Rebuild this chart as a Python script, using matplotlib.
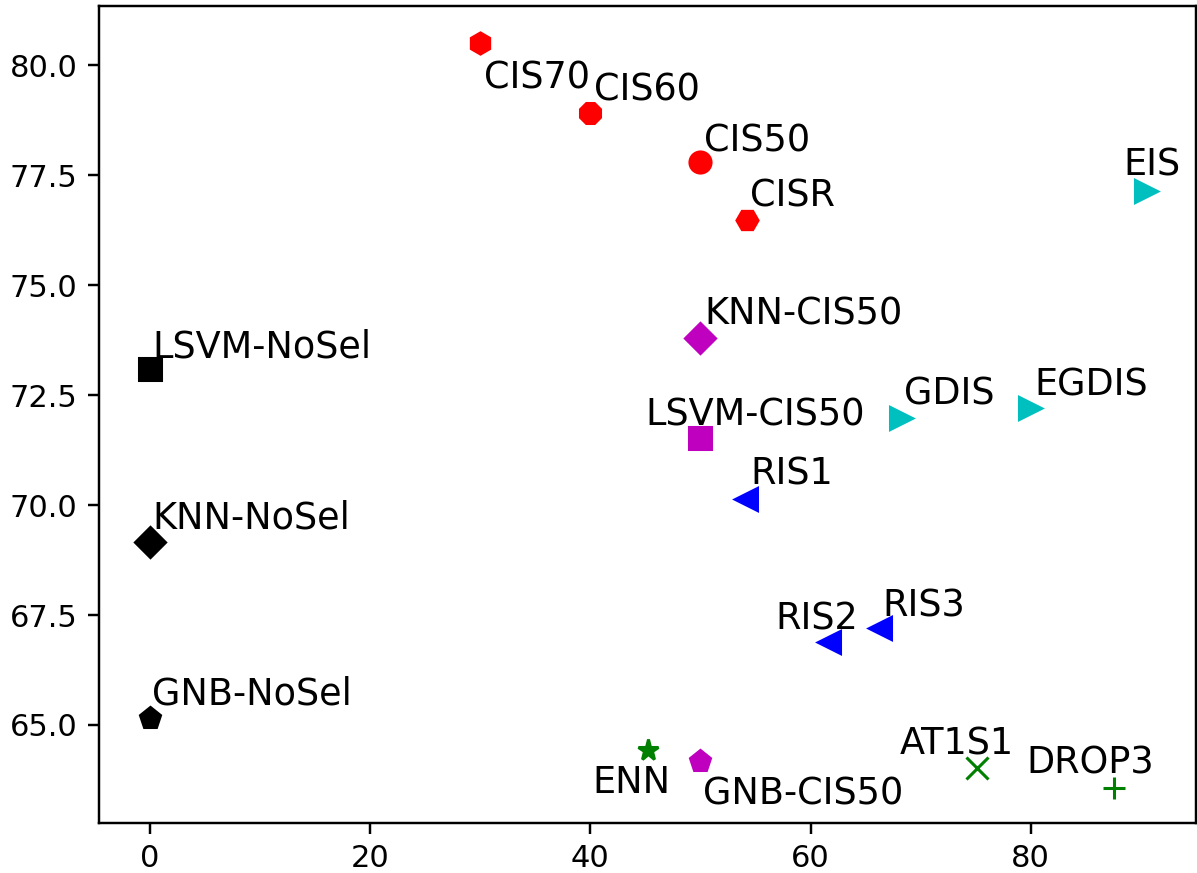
import matplotlib
matplotlib.use("Agg")
import matplotlib.pyplot as plt

names = ["CIS70", "CIS60", "CIS50", "CISR", "EIS", "KNN-CIS50", "LSVM-NoSel",
         "GDIS", "EGDIS", "LSVM-CIS50", "RIS1", "KNN-NoSel", "RIS2", "RIS3",
         "GNB-NoSel", "ENN", "GNB-CIS50", "AT1S1", "DROP3"]
reduction = [30.0, 40.0, 50.0, 54.2, 90.5, 50.0, 0.0,
             68.2, 79.9, 50.0, 54.1, 0.0, 61.7, 66.3,
             0.0, 45.2, 50.0, 75.1, 87.6]
accuracy = [80.50, 78.91, 77.80, 76.48, 77.14, 73.80, 73.09,
            71.98, 72.20, 71.52, 70.14, 69.16, 66.89, 67.20,
            65.16, 64.43, 64.18, 64.02, 63.57]
markers = ["h", "8", "o", "H", ">", "D", "s",
           ">", ">", "s", "<", "D", "<", "<",
           "p", "*", "p", "x", "+"]
colors = ["r", "r", "r", "r", "c", "m", "k",
          "c", "c", "m", "b", "k", "b", "b",
          "k", "g", "m", "g", "g"]

# label offsets (data units)
label_dx = [0.35, 0.35, 0.35, 0.35, -2.1, 0.35, 0.25,
            0.25, 0.45, -5.0, 0.45, 0.25, -4.9, 0.2,
            0.25, -5.0, 0.25, -7.0, -8.0]
label_dy = [-1.02, 0.3, 0.23, 0.3, 0.36, 0.3, 0.27,
            0.3, 0.3, 0.3, 0.32, 0.3, 0.27, 0.27,
            0.3, -0.98, -1.0, 0.3, 0.32]

DPI = 220
fig = plt.figure(figsize=(1197 / DPI, 873 / DPI), dpi=DPI)
ax = fig.add_axes([99/1197, 50/873, 1097/1197, 817/873])

for x, y, m, c, n, dx, dy in zip(reduction, accuracy, markers, colors, names, label_dx, label_dy):
    ax.plot([x], [y], linestyle="none", marker=m, color=c, markersize=6.9)
    ax.text(x + dx, y + dy, n, fontsize=12, ha="left", va="baseline")

ax.set_xlim(-4.6, 95.0)
ax.set_ylim(62.77, 81.35)
ax.set_xticks([0, 20, 40, 60, 80])
ax.set_yticks([65.0, 67.5, 70.0, 72.5, 75.0, 77.5, 80.0])
ax.tick_params(labelsize=10)

fig.savefig("out.png", dpi=DPI)
